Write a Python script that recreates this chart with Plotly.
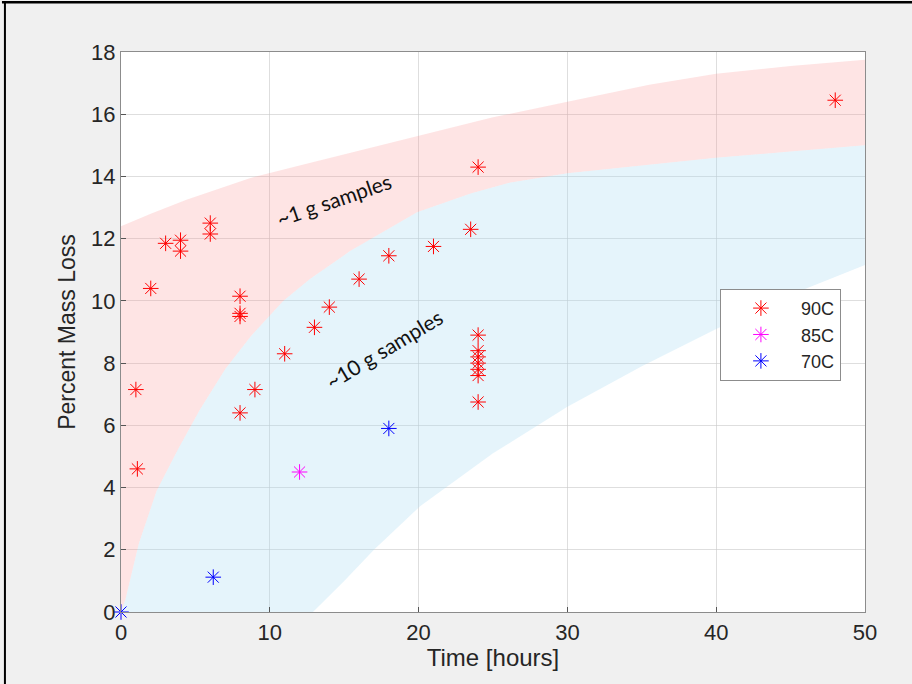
import plotly.graph_objects as go

# 90C data
x90 = [1, 1.1, 2, 3, 4, 4, 6, 6, 8, 8, 8, 8, 9, 11, 13, 14, 16, 18, 21, 23.5, 24,
       24, 24, 24, 24, 24, 24, 24, 48]
y90 = [7.15, 4.6, 10.4, 11.85, 11.95, 11.6, 12.5, 12.15, 10.15, 9.6, 9.5, 6.4, 7.15, 8.3,
       9.15, 9.8, 10.7, 11.45, 11.75, 12.3, 14.3,
       8.9, 8.4, 8.2, 8.0, 7.8, 7.6, 6.75, 16.45]
# 85C data
x85 = [12]
y85 = [4.5]
# 70C data
x70 = [0, 6.2, 18]
y70 = [0, 1.12, 5.9]

# band boundaries
red_up_x = [0, 2, 4.4, 6.5, 8.7, 12, 15.4, 20, 25, 30, 35.5, 40, 45, 50]
red_up_y = [12.4, 12.8, 13.25, 13.6, 13.95, 14.35, 14.75, 15.3, 15.9, 16.4, 16.95, 17.3, 17.55, 17.75]
mid_x = [0, 0.3, 1.2, 2.4, 3.8, 5.3, 7.0, 8.7, 10.9, 12.7, 15.4, 19.9, 23.5, 26.1, 30, 35, 40, 45, 50]
mid_y = [0, 0.4, 2.2, 3.9, 5.2, 6.5, 7.8, 8.85, 10.0, 10.7, 11.6, 12.85, 13.45, 13.8, 14.1,
         14.35, 14.6, 14.8, 15.0]
blue_lo_x = [50, 45, 40, 35, 30, 25, 20.1, 17, 15, 12.9]
blue_lo_y = [11.15, 10.2, 9.1, 7.9, 6.6, 5.1, 3.4, 2.0, 1.0, 0.0]
close_x = [0]
close_y = [0]

fig = go.Figure()

fig.add_trace(go.Scatter(
    x=red_up_x + mid_x[::-1], y=red_up_y + mid_y[::-1],
    fill="toself", fillcolor="rgba(250,150,150,0.26)", line=dict(width=0),
    mode="lines", showlegend=False, hoverinfo="skip"))
fig.add_trace(go.Scatter(
    x=mid_x + blue_lo_x + close_x, y=mid_y + blue_lo_y + close_y,
    fill="toself", fillcolor="rgba(170,220,242,0.30)", line=dict(width=0),
    mode="lines", showlegend=False, hoverinfo="skip"))

mk = dict(symbol="asterisk-open", size=13, line=dict(width=1))
fig.add_trace(go.Scatter(x=x90, y=y90, mode="markers", name="90C",
                         marker=dict(**mk, color="#ff0000")))
fig.add_trace(go.Scatter(x=x85, y=y85, mode="markers", name="85C",
                         marker=dict(**mk, color="#ff00ff")))
fig.add_trace(go.Scatter(x=x70, y=y70, mode="markers", name="70C", cliponaxis=False,
                         marker=dict(**mk, color="#0000ff")))

axis_common = dict(
    showgrid=True, gridcolor="rgba(200,200,200,0.6)", gridwidth=1,
    showline=True, linecolor="#8c8c8c", linewidth=1.2, mirror=True,
    ticks="inside", ticklen=5, tickcolor="#555555",
    tickfont=dict(family="Liberation Sans, Arial", size=22, color="#262626"),
    zeroline=False,
)

fig.update_layout(
    width=912, height=684,
    margin=dict(l=121, r=47, t=52, b=72),
    paper_bgcolor="#f0f0f0", plot_bgcolor="white",
    xaxis=dict(range=[0, 50], tickvals=[0, 10, 20, 30, 40, 50],
               title=dict(text="Time [hours]", standoff=5,
                          font=dict(family="Liberation Sans, Arial", size=24, color="#262626")),
               **axis_common),
    yaxis=dict(range=[0, 18], tickvals=list(range(0, 19, 2)),
               title=dict(text="Percent Mass Loss", standoff=8,
                          font=dict(family="Liberation Sans, Arial", size=23, color="#262626")),
               **axis_common),
    legend=dict(x=0.805, y=0.577, xanchor="left", yanchor="top",
                bgcolor="white", bordercolor="#8c8c8c", borderwidth=1,
                font=dict(family="Liberation Sans, Arial", size=18, color="#262626"),
                itemwidth=70, tracegroupgap=0),
    showlegend=True,
    annotations=[
        dict(x=14.3, y=13.25, xref="x", yref="y", text="~1 g samples", showarrow=False,
             textangle=-19, font=dict(family="Lato, Open Sans", size=21, color="#111111")),
        dict(x=17.7, y=8.46, xref="x", yref="y", text="~10 g samples", showarrow=False,
             textangle=-31, font=dict(family="Lato, Open Sans", size=21, color="#111111")),
    ],
    shapes=[
        dict(type="line", xref="paper", yref="paper", x0=-0.16, x1=1.07, y0=1.089, y1=1.089,
             line=dict(color="black", width=2.5)),
        dict(type="line", xref="paper", yref="paper", x0=-0.156, x1=-0.156, y0=1.089, y1=-0.135,
             line=dict(color="black", width=2)),
    ],
)

fig.write_html("out.html", config={"displayModeBar": False},
               post_script="document.body.style.margin='0';")
